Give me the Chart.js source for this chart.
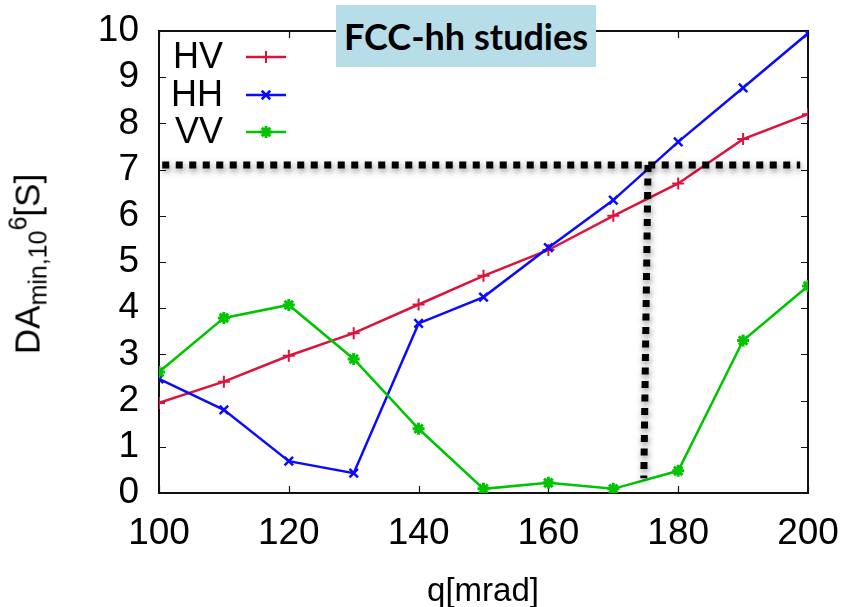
<!DOCTYPE html>
<html>
<head>
<meta charset="utf-8">
<script src="https://cdn.jsdelivr.net/npm/chart.js@4/dist/chart.umd.min.js"></script>
<style>
  body { margin: 0; background: #fff; }
  #wrap { position: relative; width: 846px; height: 607px; }
  #tag {
    position: absolute; left: 336px; top: 5px; width: 260px; height: 62px;
    background: #b7dde8; font: bold 36px Lato, sans-serif; color: #000;
    display: flex; align-items: center; justify-content: center;
  }
  #ytitle {
    position: absolute; left: 28px; top: 264px; white-space: nowrap;
    font: 35px "Liberation Sans", Arial, sans-serif;
    transform: translate(-50%, -50%) rotate(-90deg);
  }
  #ytitle sub { font-size: 25px; vertical-align: -7px; }
  #ytitle sup { font-size: 25px; vertical-align: 13px; }
  #xtitle {
    position: absolute; left: 483px; top: 590px; transform: translate(-50%, -50%);
    font: 33px "Liberation Sans", Arial, sans-serif; white-space: nowrap;
  }
</style>
</head>
<body>
<div id="wrap">
  <canvas id="c" width="846" height="607"></canvas>
  <div id="tag">FCC-hh studies</div>
  <div id="ytitle">DA<sub>min,10</sub><sup>6</sup>[S]</div>
  <div id="xtitle">q[mrad]</div>
</div>
<script>
// crossing angle scan
const qValues = [100, 110, 120, 130, 140, 150, 160, 170, 180, 190, 200];
const hv = [1.95, 2.41, 2.97, 3.46, 4.08, 4.70, 5.26, 6.00, 6.70, 7.66, 8.20];
const hh = [2.47, 1.80, 0.69, 0.43, 3.67, 4.24, 5.31, 6.34, 7.60, 8.77, 9.95];
const vv = [2.62, 3.79, 4.07, 2.90, 1.39, 0.09, 0.22, 0.09, 0.48, 3.30, 4.48];

// 7 sigma target and the angle where HH reaches it
const targetX = [100.5, 198.8];
const targetY = [7.1, 7.1];
const cutX = [175.35, 174.7];
const cutY = [7.1, 0.32];

const xTicks = [100, 120, 140, 160, 180, 200];
const yTicks = [0, 1, 2, 3, 4, 5, 6, 7, 8, 9, 10];

const pts = (xs, ys) => xs.map((x, i) => ({ x: x, y: ys[i] }));

const series = [
  { label: "HV", data: hv, color: "#dc143c", style: "cross", radius: 6, width: 2 },
  { label: "HH", data: hh, color: "#0a0aff", style: "crossRot", radius: 6, width: 2.5 },
  { label: "VV", data: vv, color: "#00c400", style: "star", radius: 6, width: 3 },
];

const dotted = {
  borderColor: "#000",
  borderWidth: 7,
  borderDash: [7, 6.5],
  borderCapStyle: "butt",
  pointRadius: 0,
  fill: false,
  order: 0,
  shadow: true,
};

const datasets = series.map((s, i) => ({
  label: s.label,
  data: pts(qValues, s.data),
  borderColor: s.color,
  backgroundColor: s.color,
  borderWidth: 2.5,
  pointStyle: s.style,
  pointRadius: s.radius,
  pointBorderWidth: s.width,
  pointBorderColor: s.color,
  fill: false,
  order: 3 - i,
}));
datasets.push(Object.assign({ label: "target", data: pts(targetX, targetY) }, dotted));
datasets.push(Object.assign({ label: "cut", data: pts(cutX, cutY) }, dotted));

// soft shadow under the dotted guide lines
const shadowPlugin = {
  id: "shadow",
  beforeDatasetDraw(chart, args) {
    if (!chart.data.datasets[args.index].shadow) return;
    const ctx = chart.ctx;
    ctx.save();
    ctx.shadowColor = "rgba(0,0,0,0.45)";
    ctx.shadowBlur = 6;
    ctx.shadowOffsetX = 1;
    ctx.shadowOffsetY = 3;
  },
  afterDatasetDraw(chart, args) {
    if (!chart.data.datasets[args.index].shadow) return;
    chart.ctx.restore();
  },
};

// frame with inward ticks on all four sides
const framePlugin = {
  id: "frame",
  beforeDatasetsDraw(chart) {
    const { ctx, chartArea: a, scales } = chart;
    ctx.save();
    ctx.strokeStyle = "#111";
    ctx.lineWidth = 1.2;
    const len = 7;
    ctx.beginPath();
    xTicks.forEach((v) => {
      const px = Math.round(scales.x.getPixelForValue(v)) + 0.5;
      ctx.moveTo(px, a.bottom); ctx.lineTo(px, a.bottom - len);
      ctx.moveTo(px, a.top); ctx.lineTo(px, a.top + len);
    });
    yTicks.forEach((v) => {
      const py = Math.round(scales.y.getPixelForValue(v)) + 0.5;
      ctx.moveTo(a.left, py); ctx.lineTo(a.left + len, py);
      ctx.moveTo(a.right, py); ctx.lineTo(a.right - len, py);
    });
    ctx.stroke();
    ctx.lineWidth = 2;
    ctx.strokeRect(a.left, a.top, a.right - a.left, a.bottom - a.top);
    ctx.restore();
  },
};

// key in the upper left corner: label, line sample, marker
const keyPlugin = {
  id: "key",
  afterDatasetsDraw(chart) {
    const ctx = chart.ctx;
    const rows = [57, 95, 132];
    ctx.save();
    ctx.font = '36px "Liberation Sans", Arial, sans-serif';
    ctx.textAlign = "right";
    ctx.textBaseline = "middle";
    series.forEach((s, i) => {
      const y = rows[i];
      ctx.fillStyle = "#000";
      ctx.fillText(s.label, 223, y + 1);
      ctx.strokeStyle = s.color;
      ctx.lineWidth = 2.5;
      ctx.beginPath();
      ctx.moveTo(246, y);
      ctx.lineTo(286, y);
      ctx.stroke();
      ctx.fillStyle = s.color;
      ctx.lineWidth = s.width;
      Chart.helpers.drawPoint(ctx, { pointStyle: s.style, radius: s.radius, borderWidth: s.width }, 266, y);
    });
    ctx.restore();
  },
};

const tickFont = { family: "'Liberation Sans', Arial, sans-serif", size: 37 };

new Chart(document.getElementById("c"), {
  type: "line",
  data: { datasets: datasets },
  plugins: [shadowPlugin, framePlugin, keyPlugin],
  options: {
    responsive: false,
    animation: false,
    layout: { padding: { left: 0, right: 38, top: 31, bottom: 0 } },
    plugins: { legend: { display: false }, tooltip: { enabled: false } },
    elements: { line: { tension: 0 } },
    scales: {
      x: {
        type: "linear",
        min: 100,
        max: 200,
        afterBuildTicks: (s) => { s.ticks = xTicks.map((v) => ({ value: v })); },
        afterFit: (s) => { s.height = 114; s.paddingLeft = 0; s.paddingRight = 0; },
        grid: { display: false, drawTicks: false },
        border: { display: false },
        ticks: { color: "#000", font: tickFont, padding: 19, maxRotation: 0, autoSkip: false },
      },
      y: {
        min: 0,
        max: 10,
        afterBuildTicks: (s) => { s.ticks = yTicks.map((v) => ({ value: v })); },
        afterFit: (s) => { s.width = 159; s.paddingTop = 0; s.paddingBottom = 0; },
        grid: { display: false, drawTicks: false },
        border: { display: false },
        ticks: { color: "#000", font: tickFont, padding: 20, autoSkip: false },
      },
    },
  },
});
</script>
</body>
</html>
